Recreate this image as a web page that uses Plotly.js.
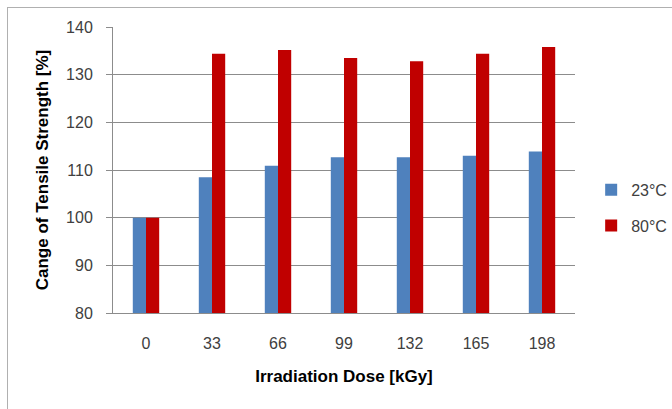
<!DOCTYPE html>
<html>
<head>
<meta charset="utf-8">
<script src="https://cdn.plot.ly/plotly-3.0.1.min.js"></script>
<style>
html,body{margin:0;padding:0;background:#fff;}
#frame{position:absolute;left:7px;top:7px;width:700px;height:420px;border:1px solid #b0b0b0;box-sizing:border-box;}
#chart{position:absolute;left:0;top:0;width:672px;height:409px;}
</style>
</head>
<body>
<div id="frame"></div>
<div id="chart"></div>
<script>
const doses = ['0','33','66','99','132','165','198'];
const series23 = [100, 108.5, 110.9, 112.7, 112.7, 113.0, 113.9];
const series80 = [100, 134.4, 135.2, 133.5, 132.8, 134.4, 135.8];
const seriesNames = ['23°C', '80°C'];
const yTicks = [80, 90, 100, 110, 120, 130, 140];

const traces = [
  {type:'bar', x: doses, y: series23, name: seriesNames[0], legendgroup:'a', marker:{color:'#4F81BD'}},
  {type:'bar', x: doses, y: series80, name: seriesNames[1], legendgroup:'b', marker:{color:'#C00000'}}
];

const layout = {
  width: 672, height: 409,
  paper_bgcolor: 'rgba(0,0,0,0)', plot_bgcolor: 'rgba(0,0,0,0)',
  margin: {l:113, r:97, t:27, b:96, pad:0, autoexpand:false},
  barmode: 'group', bargap: 0.6, bargroupgap: 0,
  font: {family: 'Liberation Sans, Arial, sans-serif', color: '#404040', size: 16},
  xaxis: {
    type: 'category',
    showline: true, linecolor: '#8c8c8c', linewidth: 1,
    ticks: '', showgrid: false,
    tickfont: {size: 16, color: '#404040'},
    ticklabelstandoff: 16,
    automargin: false,
    title: {text: 'Irradiation Dose [kGy]', font: {size: 17, color: '#000', weight: 'bold'}, standoff: 18}
  },
  yaxis: {
    range: [80, 140], tickvals: yTicks,
    showline: true, linecolor: '#8c8c8c', linewidth: 1,
    ticks: 'outside', ticklen: 6, tickcolor: '#8c8c8c',
    showgrid: true, gridcolor: '#8c8c8c', gridwidth: 1,
    zeroline: false,
    tickfont: {size: 16, color: '#404040'},
    ticklabelstandoff: 10,
    automargin: false,
    title: {text: 'Cange of Tensile Strength [%]', font: {size: 17, color: '#000', weight: 'bold'}, standoff: 13}
  },
  legend: {
    x: 1.035, y: 0.49, xanchor: 'left', yanchor: 'top',
    font: {size: 16, color: '#404040'},
    itemwidth: 30, tracegroupgap: 12, traceorder: 'grouped',
    bgcolor: 'rgba(0,0,0,0)'
  },
  showlegend: true
};

Plotly.newPlot('chart', traces, layout, {staticPlot: true, displayModeBar: false});
</script>
</body>
</html>
